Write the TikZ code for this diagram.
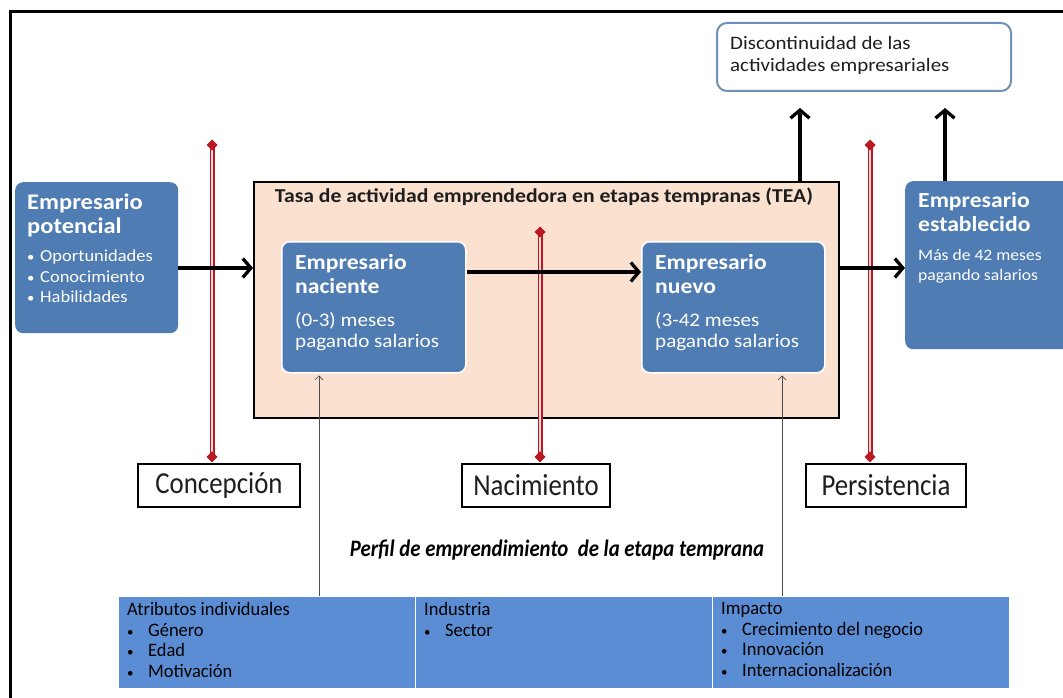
\documentclass[tikz,border=0pt]{standalone}
\usepackage{fontspec}
\setmainfont{Carlito}
\newfontfamily\widefont{Carlito}[FakeStretch=1.1]
\newfontfamily\condfont{Carlito}[FakeStretch=0.88]
\newfontfamily\tblfont{Carlito}[FakeStretch=0.97]
\usetikzlibrary{arrows.meta,calc}
\definecolor{boxblue}{RGB}{80,124,180}
\definecolor{tblblue}{RGB}{91,141,212}
\definecolor{peach}{RGB}{251,225,208}
\definecolor{dred}{RGB}{185,25,35}
\definecolor{lred}{RGB}{248,215,215}
\definecolor{discb}{RGB}{112,142,182}
\definecolor{txtdark}{RGB}{30,30,30}
\tikzset{
  bluebox/.style={fill=boxblue, rounded corners=8pt, inner sep=0pt, anchor=north west},
  innerbox/.style={fill=boxblue, draw=white, line width=1.5pt, rounded corners=8pt, inner sep=0pt, anchor=north west},
  wtext/.style={text=white, align=left, inner sep=0pt, anchor=north west},
  stagebox/.style={draw=black, line width=2.2pt, fill=white, inner sep=0pt, text=txtdark, font=\condfont\fontsize{30.5}{34}\selectfont},
  cellbox/.style={fill=tblblue, draw=white, line width=1.2pt, inner sep=0pt, anchor=north west, minimum width=297pt, minimum height=92pt},
  celltext/.style={text=black, align=left, inner sep=0pt, anchor=north west, font=\tblfont\fontsize{19}{20.7}\selectfont},
  bigarrow/.style={line width=3.3pt, -{Straight Barb[length=8pt,width=19pt]}},
  thinarrow/.style={line width=0.7pt, draw=black!70, -{Straight Barb[length=4pt,width=8pt]}},
  redout/.style={line width=5pt, draw=dred},
  redin/.style={line width=2.4pt, draw=lred},
}
\newcommand{\reddiam}[1]{\fill[dred] ($(#1)+(0,-5.5)$) -- ++(5.5,5.5) -- ++(-5.5,5.5) -- ++(-5.5,-5.5) -- cycle;}
\newcommand{\sbul}[1]{\makebox[#1][l]{\scalebox{0.8}{\textbullet}}}
\newcommand{\tbul}{\makebox[21pt][l]{\scalebox{0.7}{\textbullet}}}
\begin{document}
\begin{tikzpicture}[x=1pt,y=-1pt]
\clip (0,0) rectangle (1063,698);
\fill[white] (0,0) rectangle (1063,698);
\draw[line width=3pt] (10,12) rectangle (1090,730);

% discontinuidad box
\node[draw=discb, line width=2pt, fill=white, rounded corners=10pt, minimum width=294pt, minimum height=68pt, anchor=north west, inner sep=0pt] (disc) at (716,22) {};
\node[align=left, inner sep=0pt, anchor=north west, text=txtdark, font=\widefont\fontsize{19}{22.5}\selectfont] (discT) at (730,36) {Discontinuidad de las\\actividades empresariales};

% TEA box
\node[draw=black, line width=2.2pt, fill=peach, minimum width=585pt, minimum height=236pt, anchor=north west, inner sep=0pt] (tea) at (253,181) {};
\node[inner sep=0pt, anchor=base, font=\widefont\fontsize{19.7}{22}\selectfont\bfseries, text=txtdark] (teaT) at (544,202) {Tasa de actividad emprendedora en etapas tempranas (TEA)};

% blue boxes
\node[bluebox, minimum width=163pt, minimum height=151pt] (pot) at (15,182) {};
\node[wtext, font=\widefont\fontsize{22.3}{23.5}\selectfont\bfseries] (potT) at (27,194) {Empresario\\potencial};
\node[wtext, font=\widefont\fontsize{16.8}{20.5}\selectfont] (potB) at (27,250) {\sbul{13pt}Oportunidades\\\sbul{13pt}Conocimiento\\\sbul{13pt}Habilidades};

\node[innerbox, minimum width=184pt, minimum height=131pt] (nac) at (281,241) {};
\node[wtext, font=\widefont\fontsize{21.5}{24}\selectfont\bfseries] (nacT) at (295,254) {Empresario\\naciente};
\node[wtext, font=\widefont\fontsize{19.2}{21}\selectfont] (nacB) at (295,312) {(0-3) meses\\pagando salarios};

\node[innerbox, minimum width=183pt, minimum height=131pt] (nue) at (641,241) {};
\node[wtext, font=\widefont\fontsize{21.5}{24}\selectfont\bfseries] (nueT) at (655,254) {Empresario\\nuevo};
\node[wtext, font=\widefont\fontsize{19.2}{21}\selectfont] (nueB) at (655,312) {(3-42 meses\\pagando salarios};

\node[bluebox, minimum width=180pt, minimum height=168pt] (est) at (905,181) {};
\node[wtext, font=\widefont\fontsize{21.5}{24}\selectfont\bfseries] (estT) at (918,192) {Empresario\\establecido};
\node[wtext, font=\widefont\fontsize{16}{20.5}\selectfont] (estB) at (918,249) {Más de 42 meses\\pagando salarios};

% stage boxes
\node[stagebox, minimum width=162pt, minimum height=43pt] (conc) at (219,485.5) {Concepción};
\node[stagebox, minimum width=148pt, minimum height=43pt] (nacim) at (536,485.5) {Nacimiento};
\node[stagebox, minimum width=160pt, minimum height=43pt] (pers) at (886,485.5) {Persistencia};

% red lines
\coordinate (rA) at (212,145);
\coordinate (rB) at (540,232);
\coordinate (rC) at (870,145);
\foreach \t/\b in {rA/conc, rB/nacim, rC/pers}{
  \draw[redout] (\t) -- ($(\t |- \b.north)+(0,-6)$);
  \draw[redin] (\t) -- ($(\t |- \b.north)+(0,-6)$);
  \reddiam{\t}
  \reddiam{$(\t |- \b.north)+(0,-6)$}
}

% main arrows
\coordinate (ay1) at (0,268);
\coordinate (ay2) at (0,272);
\draw[bigarrow] (pot.east |- ay1) -- (tea.west |- ay1);
\draw[bigarrow] (nac.east |- ay2) -- (nue.west |- ay2);
\draw[bigarrow] (tea.east |- ay1) -- (est.west |- ay1);
\coordinate (upA) at (800,108);
\coordinate (upB) at (945,108);
\draw[bigarrow] (upA |- tea.north) -- (upA);
\draw[bigarrow] (upB |- est.north) -- (upB);

% perfil
\node[inner sep=0pt, font=\condfont\fontsize{23.6}{26}\selectfont\bfseries\itshape, text=black] (perfil) at (557,550) {Perfil de emprendimiento\ \ de la etapa temprana};

% table
\node[cellbox] (cell1) at (118,596) {};
\node[cellbox] (cell2) at (415,596) {};
\node[cellbox] (cell3) at (712,596) {};
\node[celltext] (c1T) at (127,602) {Atributos individuales\\\tbul Género\\\tbul Edad\\\tbul Motivación};
\node[celltext] (c2T) at (424,602) {Industria\\\tbul Sector};
\node[celltext] (c3T) at (721,602) {Impacto\\\tbul Crecimiento del negocio\\\tbul Innovación\\\tbul Internacionalización};

% thin arrows
\draw[thinarrow] ($(cell1.north west)+(201,0)$) -- ($(nac.south west)+(38,2)$);
\draw[thinarrow] ($(cell3.north west)+(70,0)$) -- ($(nue.south west)+(141,2)$);
\end{tikzpicture}
\end{document}
